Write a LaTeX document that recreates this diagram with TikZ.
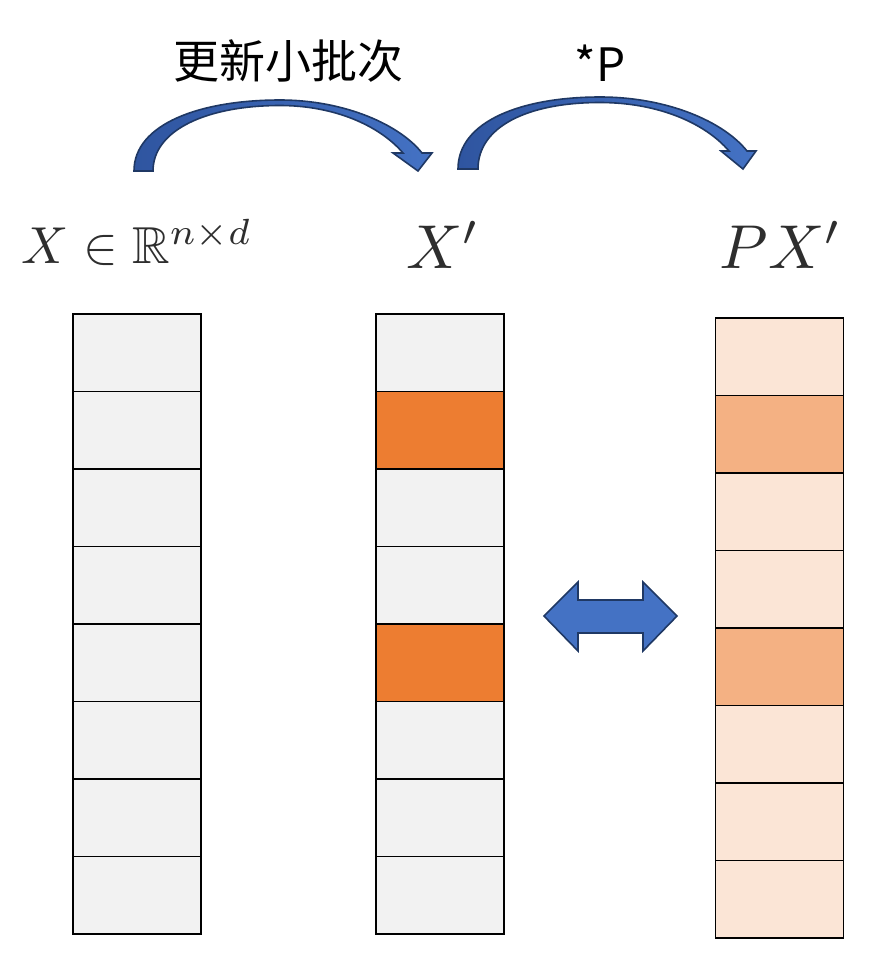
\documentclass[tikz,border=0pt]{standalone}
\usepackage{graphicx}
\usepackage{amssymb}
\usepackage{fontspec}
\newfontfamily\cjk{Noto Sans CJK SC}
\definecolor{cellgray}{HTML}{F2F2F2}
\definecolor{cellorange}{HTML}{ED7D31}
\definecolor{celllight}{HTML}{FBE5D6}
\definecolor{cellmid}{HTML}{F4B183}
\definecolor{arrowblue}{HTML}{4472C4}
\definecolor{arrowdark}{HTML}{2F55A0}
\definecolor{arrowedge}{HTML}{1F3864}
\definecolor{labelgray}{HTML}{2E2E2E}
\begin{document}
\begin{tikzpicture}[x=1pt,y=-1pt,
  cell/.style={draw=black,line width=1.9pt,minimum width=128pt,minimum height=77.5pt,inner sep=0pt,outer sep=0pt},
  blockarrow/.style={draw=arrowedge,line width=1.6pt,line join=miter},
  curvearrow/.style={blockarrow,left color=arrowdark,right color=arrowblue},
  mathlabel/.style={text=labelgray,anchor=base,inner sep=0pt},
  toplabel/.style={font=\cjk\fontsize{46}{50}\selectfont,text=black,inner sep=0pt}]
\useasboundingbox (0,0) rectangle (892,975);
% columns
\foreach \i in {1,...,8}{
  \node[cell,fill=cellgray] (L\i) at (137,{314+77.5*(\i-0.5)}) {};
}
\foreach \i/\c in {1/cellgray,2/cellorange,3/cellgray,4/cellgray,5/cellorange,6/cellgray,7/cellgray,8/cellgray}{
  \node[cell,fill=\c] (M\i) at (440,{314+77.5*(\i-0.5)}) {};
}
\foreach \i/\c in {1/celllight,2/cellmid,3/celllight,4/celllight,5/cellmid,6/celllight,7/celllight,8/celllight}{
  \node[cell,fill=\c] (R\i) at (779.5,{318+77.5*(\i-0.5)}) {};
}
% labels
\node[mathlabel] (labX) at (137,263) {\scalebox{5.2}{$X\in\mathbb{R}^{n\times d}$}};
\node[mathlabel] (labXp) at (443,268) {\scalebox{6.2}{$X'$}};
\node[mathlabel] (labPXp) at (781,268) {\scalebox{6.2}{$PX'$}};
\node[toplabel] (upd) at (288,61) {更新小批次};
\node[toplabel] (mulP) at (600,63) {*P};
% curved arrow 1
\path[curvearrow] (134,171) .. controls (134,124) and (200,100) .. (280,100)
  .. controls (345,100) and (400,125) .. (422,153)
  -- (432,153) -- (418,171) -- (393,153) -- (403,153)
  .. controls (380,126) and (335,105.5) .. (280,105.5)
  .. controls (207,105.5) and (153,130) .. (153,171) -- cycle;
% curved arrow 2
\path[curvearrow] (458,169) .. controls (458,121) and (522,97) .. (600,97)
  .. controls (668,97) and (724,122) .. (747,151)
  -- (756,151) -- (743,169) -- (721,151) -- (729,151)
  .. controls (705,123) and (658,102.5) .. (600,102.5)
  .. controls (527,102.5) and (478,127) .. (478,169) -- cycle;
% double arrow
\path[blockarrow,fill=arrowblue] (544,616) -- (578,582) -- (578,600) -- (643,600) -- (643,582)
  -- (677,616) -- (643,651) -- (643,633) -- (578,633) -- (578,651) -- cycle;
\end{tikzpicture}
\end{document}
